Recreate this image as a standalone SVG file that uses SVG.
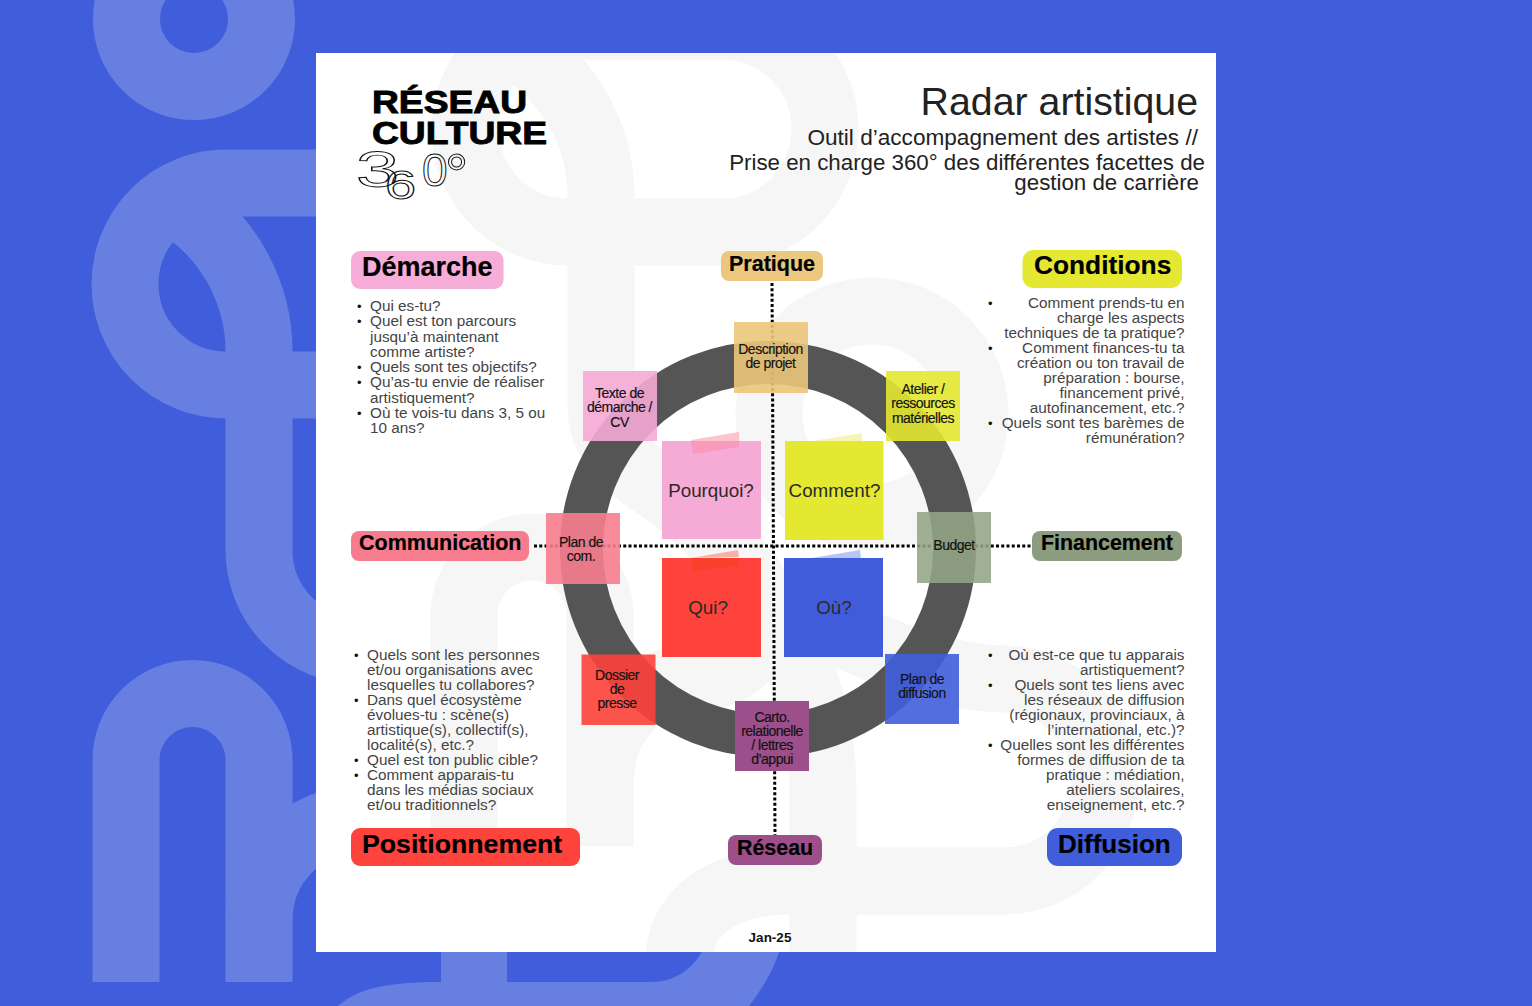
<svg xmlns="http://www.w3.org/2000/svg" width="1532" height="1006" viewBox="0 0 1532 1006">
<style>
text{font-family:"Liberation Sans",Arial,sans-serif}
.wb{fill:none;stroke:#667fe1;stroke-width:67}
.wc{fill:none;stroke:#f6f6f6;stroke-width:67}
.h{font-weight:700;fill:#000;stroke:#000;stroke-width:.2}
.b{font-size:15.3px;fill:#444}
.e{text-anchor:end}
.d{font-size:13px;fill:#111}
.n{font-size:14px;fill:#111;text-anchor:middle;letter-spacing:-.5px;stroke:#111;stroke-width:.15}
.s{font-size:18.8px;fill:#2a2a2a;text-anchor:middle}
.dot{fill:none;stroke:#000;stroke-width:3;stroke-dasharray:3 2.25}
.t{font-size:22.3px;fill:#222;text-anchor:end}
.o{fill:none;stroke:#111;stroke-width:1}
</style>
<defs><clipPath id="card"><rect x="316" y="53" width="900" height="899"/></clipPath></defs>
<rect width="1532" height="1006" fill="#405edc"/>
<g id="background-pattern">
<circle class="wb" cx="194" cy="19" r="67.5"/>
<path class="wb" d="M340,183H226A101,101 0 0 0 226,385H340"/>
<path class="wb" d="M172,201A174,174 0 0 1 259,352V550A101,101 0 0 0 360,651H400"/>
<path class="wb" d="M126,982V760A66.5,66.5 0 0 1 259,760V982"/>
<path class="wb" d="M259,920A101,101 0 0 1 360,819H400"/>
<path fill="#667fe1" d="M338,1006C355,992 375,982 441,982V940H507V982H650C675,982 695,970 708,940H782C778,960 770,978 749,1006Z"/>
</g>
<rect id="sheet" x="316" y="53" width="900" height="899" fill="#fff"/>
<g id="sheet-pattern" clip-path="url(#card)">
<path class="wc" d="M568,26H722A103,103 0 0 1 722,232H568A103,103 0 0 1 568,26Z"/>
<path class="wc" d="M515,46A174,174 0 0 1 601,196V405C601,445 630,470 663,490C720,530 823,640 823,790V960"/>
<circle class="wc" cx="872" cy="414" r="103"/>
<path class="wc" d="M464,846V615A68,68 0 0 1 600,615V846"/>
<path class="wc" d="M601,777A101,101 0 0 1 702,676C730,676 750,660 770,625"/>
<path class="wc" d="M770,600C850,640 940,679 1004,679A101,101 0 0 1 1004,881H790C720,881 679,915 679,960"/>
</g>
<g id="connectors">
<circle cx="768" cy="549" r="186.5" fill="none" stroke="#555" stroke-width="43"/>
<path class="dot" d="M772,283L775,835"/>
<path class="dot" d="M534,546H1032"/>
</g>
<g id="logo">
<text x="372" y="113" font-size="31" font-weight="700" fill="#000" stroke="#000" stroke-width=".9" textLength="155" lengthAdjust="spacingAndGlyphs">RÉSEAU</text>
<text x="372" y="144" font-size="31" font-weight="700" fill="#000" stroke="#000" stroke-width=".9" textLength="175" lengthAdjust="spacingAndGlyphs">CULTURE</text>
<text class="o" transform="translate(356,187) scale(1.55,1)" font-size="50">3</text>
<text class="o" transform="translate(385,199) scale(1.4,1)" font-size="40">6</text>
<text class="o" transform="translate(422,186)" font-size="46">0</text>
<text class="o" transform="translate(445,194)" font-size="58">°</text>
</g>
<g id="title">
<text x="1198" y="115" font-size="39.3" fill="#222" text-anchor="end">Radar artistique</text>
<text class="t" x="1198" y="145" style="font-size:22.6px">Outil d’accompagnement des artistes //</text>
<text class="t" x="1205" y="170">Prise en charge 360° des différentes facettes de</text>
<text class="t" x="1199" y="190">gestion de carrière</text>
</g>
<g id="demarche">
<rect x="351" y="251" width="152.500" height="38" rx="9" fill="#f6aed9"/>
<text class="h" x="362" y="276" font-size="27">Démarche</text>
<text class="b" x="370" y="311">Qui es-tu?</text>
<text class="b" x="370" y="326">Quel est ton parcours</text>
<text class="b" x="370" y="342">jusqu’à maintenant</text>
<text class="b" x="370" y="357">comme artiste?</text>
<text class="b" x="370" y="372">Quels sont tes objectifs?</text>
<text class="b" x="370" y="387">Qu’as-tu envie de réaliser</text>
<text class="b" x="370" y="403">artistiquement?</text>
<text class="b" x="370" y="418">Où te vois-tu dans 3, 5 ou</text>
<text class="b" x="370" y="433">10 ans?</text>
<text class="d" x="357" y="311">•</text><text class="d" x="357" y="326">•</text><text class="d" x="357" y="372">•</text><text class="d" x="357" y="387">•</text><text class="d" x="357" y="418">•</text>
</g>
<g id="conditions">
<rect x="1022.500" y="250" width="159.500" height="38" rx="11" fill="#e4e830"/>
<text class="h" x="1034" y="274" font-size="26.300">Conditions</text>
<text class="b e" x="1184.500" y="308">Comment prends-tu en</text>
<text class="b e" x="1184.500" y="323">charge les aspects</text>
<text class="b e" x="1184.500" y="338">techniques de ta pratique?</text>
<text class="b e" x="1184.500" y="353">Comment finances-tu ta</text>
<text class="b e" x="1184.500" y="368">création ou ton travail de</text>
<text class="b e" x="1184.500" y="383">préparation : bourse,</text>
<text class="b e" x="1184.500" y="398">financement privé,</text>
<text class="b e" x="1184.500" y="413">autofinancement, etc.?</text>
<text class="b e" x="1184.500" y="428">Quels sont tes barèmes de</text>
<text class="b e" x="1184.500" y="443">rémunération?</text>
<text class="d" x="988" y="308">•</text><text class="d" x="988" y="353">•</text><text class="d" x="988" y="428">•</text>
</g>
<g id="positionnement">
<rect x="351" y="828" width="229" height="38" rx="9" fill="#fd433b"/>
<text class="h" x="362" y="853" font-size="26.700">Positionnement</text>
<text class="b" x="367" y="660">Quels sont les personnes</text>
<text class="b" x="367" y="675">et/ou organisations avec</text>
<text class="b" x="367" y="690">lesquelles tu collabores?</text>
<text class="b" x="367" y="705">Dans quel écosystème</text>
<text class="b" x="367" y="720">évolues-tu : scène(s)</text>
<text class="b" x="367" y="735">artistique(s), collectif(s),</text>
<text class="b" x="367" y="750">localité(s), etc.?</text>
<text class="b" x="367" y="765">Quel est ton public cible?</text>
<text class="b" x="367" y="780">Comment apparais-tu</text>
<text class="b" x="367" y="795">dans les médias sociaux</text>
<text class="b" x="367" y="810">et/ou traditionnels?</text>
<text class="d" x="354" y="660">•</text><text class="d" x="354" y="705">•</text><text class="d" x="354" y="765">•</text><text class="d" x="354" y="780">•</text>
</g>
<g id="diffusion">
<rect x="1047" y="828" width="135" height="38" rx="11" fill="#405edc"/>
<text class="h" x="1058" y="853" font-size="26">Diffusion</text>
<text class="b e" x="1184.500" y="660">Où est-ce que tu apparais</text>
<text class="b e" x="1184.500" y="675">artistiquement?</text>
<text class="b e" x="1184.500" y="690">Quels sont tes liens avec</text>
<text class="b e" x="1184.500" y="705">les réseaux de diffusion</text>
<text class="b e" x="1184.500" y="720">(régionaux, provinciaux, à</text>
<text class="b e" x="1184.500" y="735">l’international, etc.)?</text>
<text class="b e" x="1184.500" y="750">Quelles sont les différentes</text>
<text class="b e" x="1184.500" y="765">formes de diffusion de ta</text>
<text class="b e" x="1184.500" y="780">pratique : médiation,</text>
<text class="b e" x="1184.500" y="795">ateliers scolaires,</text>
<text class="b e" x="1184.500" y="810">enseignement, etc.?</text>
<text class="d" x="988" y="660">•</text><text class="d" x="988" y="690">•</text><text class="d" x="988" y="750">•</text>
</g>
<g id="pratique">
<rect x="721" y="251" width="102" height="30" rx="8" fill="#ebc77f"/>
<text class="h" x="729" y="271" font-size="21.500">Pratique</text>
</g>
<g id="communication">
<rect x="351" y="531" width="178" height="30" rx="8" fill="#f77d8e"/>
<text class="h" x="359" y="550" font-size="21.500">Communication</text>
</g>
<g id="financement">
<rect x="1032" y="531" width="150" height="30" rx="8" fill="#8c9c7e"/>
<text class="h" x="1041" y="550" font-size="21.400">Financement</text>
</g>
<g id="reseau">
<rect x="728" y="835" width="94" height="30" rx="8" fill="#9c4f8a"/>
<text class="h" x="737" y="855" font-size="21.400">Réseau</text>
</g>
<g id="pourquoi">
<rect x="662" y="441" width="99" height="98" fill="#f6aad6"/>
<polygon points="691,440 739,432 739,447 693,454" fill="#fa8aa0" fill-opacity=".5"/>
<text class="s" x="711" y="497">Pourquoi?</text>
</g>
<g id="comment">
<rect x="785" y="441" width="98.500" height="99" fill="#e4e830"/>
<polygon points="812,441 862,433 862,441" fill="#f5f6b5"/>
<text class="s" x="834.500" y="497">Comment?</text>
</g>
<g id="qui">
<rect x="662" y="558" width="99" height="99" fill="#fd433b"/>
<polygon points="691,558 738,550 739,557" fill="#f8b0a8"/>
<polygon points="691,558 739,558 739,566 693,571" fill="#f9402a"/>
<text class="s" x="708" y="614">Qui?</text>
</g>
<g id="ou">
<rect x="784" y="558" width="99" height="99" fill="#405cdb"/>
<polygon points="812,558 860,550 861,558" fill="#b8c4f2"/>
<text class="s" x="834" y="614">Où?</text>
</g>
<g id="description">
<rect x="734" y="322" width="74" height="71" fill="#ebc77b" fill-opacity=".9"/>
<text class="n" x="770.500" y="354">Description</text>
<text class="n" x="770.500" y="368">de projet</text>
</g>
<g id="texte">
<rect x="583" y="371" width="74" height="70" fill="#f5aad4" fill-opacity=".9"/>
<text class="n" x="619.500" y="398">Texte de</text>
<text class="n" x="619.500" y="412">démarche /</text>
<text class="n" x="619.500" y="427">CV</text>
</g>
<g id="atelier">
<rect x="886" y="371" width="74" height="70" fill="#e4e830" fill-opacity=".9"/>
<text class="n" x="923" y="394">Atelier /</text>
<text class="n" x="923" y="408">ressources</text>
<text class="n" x="923" y="423">matérielles</text>
</g>
<g id="plan-com">
<rect x="546" y="513" width="74" height="71" fill="#f77d8e" fill-opacity=".9"/>
<text class="n" x="581" y="547">Plan de</text>
<text class="n" x="581" y="561">com.</text>
</g>
<g id="budget">
<rect x="917" y="512" width="74" height="71" fill="#93a585" fill-opacity=".88"/>
<text class="n" x="954" y="550">Budget</text>
</g>
<g id="dossier">
<rect x="581.500" y="654.500" width="74" height="70.500" fill="#fd433b" fill-opacity=".9"/>
<text class="n" x="617" y="680">Dossier</text>
<text class="n" x="617" y="694">de</text>
<text class="n" x="617" y="708">presse</text>
</g>
<g id="plan-diffusion">
<rect x="885" y="654" width="74" height="70" fill="#405edc" fill-opacity=".9"/>
<text class="n" x="922" y="684">Plan de</text>
<text class="n" x="922" y="698">diffusion</text>
</g>
<g id="carto">
<rect x="735" y="701" width="74" height="70" fill="#9c4f8a"/>
<text class="n" x="772" y="722">Carto.</text>
<text class="n" x="772" y="736">relationelle</text>
<text class="n" x="772" y="750">/ lettres</text>
<text class="n" x="772" y="764">d’appui</text>
</g>
<text id="date" x="770" y="942" font-size="13.500" font-weight="700" fill="#111" text-anchor="middle">Jan-25</text>
</svg>
